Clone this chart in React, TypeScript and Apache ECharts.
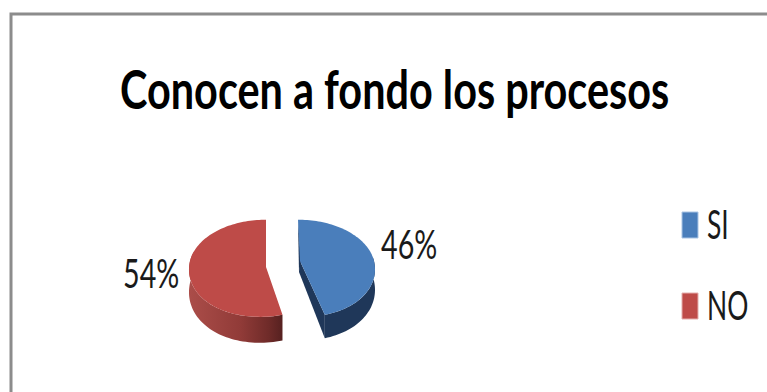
import React, { useEffect, useRef } from "react";
import * as echarts from "echarts";

const categories = ["SI", "NO"];
const shares = [46, 54];
const sliceColors = ["#4a7ebb", "#be4b48"];
const titleText = "Conocen a fondo los procesos";

const FONT = 'Lato, "Liberation Sans", sans-serif';
const RX = 76;
const RY = 47.5;
const PERSPECTIVE = 0.15;
const SLICE_DEPTH = [20, 22];
const CENTER_Y = 261;
const SLICE_CENTER_X = [298, 266];
const SLICE_SHEAR = [5, -6];
const HUB_DEPTH = 11;

// Rim point of the tilted disc; angle is in degrees, clockwise from the top.
function project(i: number, deg: number, radius = 1, drop = 0): [number, number] {
  const a = (deg * Math.PI) / 180;
  const u = Math.sin(a) * radius;
  const v = -Math.cos(a) * radius;
  const s = 1 / (1 - PERSPECTIVE * v);
  const front = Math.max(v, 0);
  return [
    SLICE_CENTER_X[i] + RX * u * s + SLICE_SHEAR[i] * front * front,
    CENTER_Y + RY * v * s + drop * s,
  ];
}

function toPath(points: [number, number][]) {
  return "M" + points.map((p) => p[0].toFixed(2) + " " + p[1].toFixed(2)).join("L") + "Z";
}

function arc(i: number, from: number, to: number, drop = 0) {
  const pts: [number, number][] = [];
  const n = Math.max(2, Math.ceil(Math.abs(to - from) / 2));
  for (let k = 0; k <= n; k++) pts.push(project(i, from + ((to - from) * k) / n, 1, drop));
  return pts;
}

function renderSlice(params: any) {
  const i = params.dataIndex;
  const total = shares.reduce((a, b) => a + b, 0);
  const before = shares.slice(0, i).reduce((a, b) => a + b, 0);
  const start = (before / total) * 360;
  const end = ((before + shares[i]) / total) * 360;
  const depth = SLICE_DEPTH[i];
  const hub = project(i, 0, 0);
  const apex: [number, number] = i === 0 ? [hub[0] + 2, hub[1]] : [hub[0], hub[1] + 6];
  const children: any[] = [];

  if (i === 0) {
    // Blue slice: outer wall, cut wall and the thin edge along its upper cut.
    const dark = "#1f3759";
    const outer = [...arc(i, 85, end), ...arc(i, end, 85, depth)];
    const rimEnd = project(i, end);
    const rimEndLow = project(i, end, 1, depth);
    const hubLow: [number, number] = [hub[0] + 1, hub[1] + HUB_DEPTH];
    children.push({ type: "path", shape: { pathData: toPath(outer) }, style: { fill: dark } });
    children.push({
      type: "path",
      shape: { pathData: toPath([apex, rimEnd, rimEndLow, hubLow]) },
      style: { fill: dark },
    });
    children.push({
      type: "path",
      shape: { pathData: toPath([project(i, start), hubLow, [hub[0] + 3, hub[1]]]) },
      style: { fill: dark },
    });
  } else {
    const outer = [...arc(i, start, 282), ...arc(i, 282, start, depth)];
    children.push({
      type: "path",
      shape: { pathData: toPath(outer) },
      style: {
        fill: new echarts.graphic.LinearGradient(0, 0, 1, 0, [
          { offset: 0, color: "#ab4d49" },
          { offset: 0.55, color: "#913b38" },
          { offset: 0.85, color: "#6f2b29" },
          { offset: 1, color: "#562120" },
        ]),
      },
    });
  }

  children.push({
    type: "path",
    shape: { pathData: toPath([apex, ...arc(i, start, end)]) },
    style: { fill: sliceColors[i] },
  });
  return { type: "group", children };
}

export default function App() {
  const ref = useRef<HTMLDivElement>(null);

  useEffect(() => {
    const chart = echarts.init(ref.current!, undefined, { renderer: "svg" });
    const textItem = (text: string, x: number, y: number, size: number, sx: number, bold = false) => ({
      type: "text",
      x,
      y,
      scaleX: sx,
      scaleY: 1,
      style: {
        text,
        fill: bold ? "#000000" : "#1a1a1a",
        font: `${bold ? "bold " : ""}${size}px ${FONT}`,
        textAlign: "left",
        textVerticalAlign: "middle",
      },
    });
    chart.setOption({
      animation: false,
      backgroundColor: "#ffffff",
      graphic: [
        {
          type: "rect",
          shape: { x: 11, y: 14, width: 800, height: 500 },
          style: { fill: "#ffffff", stroke: "#8c8c8c", lineWidth: 3 },
          z: -1,
        },
        textItem(titleText, 120, 88, 54, 0.767, true),
        textItem(shares[0] + "%", 381, 243, 41, 0.7),
        textItem(shares[1] + "%", 123, 272, 41, 0.7),
        {
          type: "rect",
          shape: { x: 682, y: 212, width: 16, height: 26 },
          style: { fill: sliceColors[0], stroke: "#a9c4e4", lineWidth: 1 },
        },
        {
          type: "rect",
          shape: { x: 682, y: 293, width: 16, height: 26 },
          style: { fill: sliceColors[1], stroke: "#e4aeac", lineWidth: 1 },
        },
        textItem(categories[0], 707, 224, 40, 0.66),
        textItem(categories[1], 707, 305, 40, 0.66),
      ],
      series: [
        {
          type: "custom",
          coordinateSystem: "none",
          renderItem: renderSlice,
          data: categories.map((name, i) => ({ name, value: shares[i] })),
          silent: true,
        },
      ],
    });
    return () => chart.dispose();
  }, []);

  return <div ref={ref} style={{ position: "fixed", left: 0, top: 0, width: 767, height: 392 }} />;
}
